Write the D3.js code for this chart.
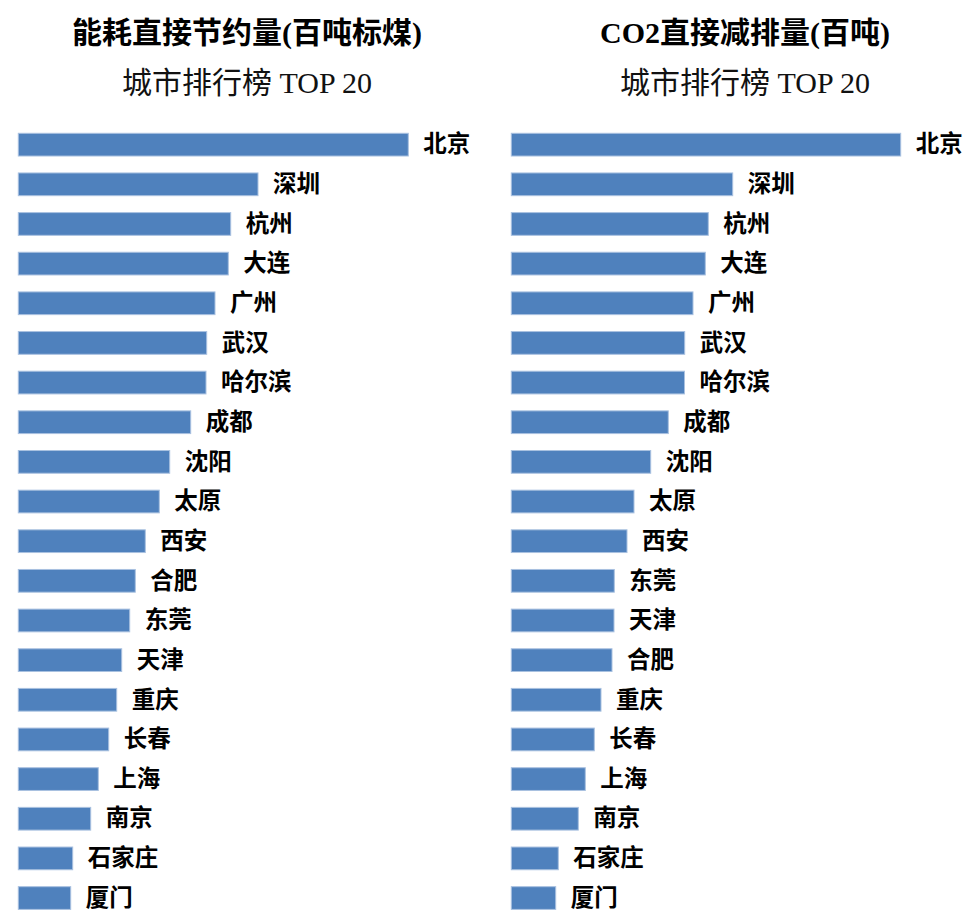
<!DOCTYPE html>
<html>
<head>
<meta charset="utf-8">
<script src="https://cdn.jsdelivr.net/npm/d3@7"></script>
<style>
  html, body { margin: 0; padding: 0; background: #fff; }
  svg { display: block; }
</style>
</head>
<body>
<svg id="chart" width="970" height="912"></svg>
<script>
// Energy saved directly (hundred tonnes of standard coal), top 20 cities
const energyCities = ["北京","深圳","杭州","大连","广州","武汉","哈尔滨","成都","沈阳","太原",
                      "西安","合肥","东莞","天津","重庆","长春","上海","南京","石家庄","厦门"];
const energyValues = [390, 239.7, 212.4, 210, 196.7, 188.4, 187.7, 172.4, 151.4, 141,
                      127, 117, 111.4, 103.4, 98.4, 90.4, 80, 72.4, 54.4, 52.4];

// CO2 emission cut directly (hundred tonnes), top 20 cities
const co2Cities = ["北京","深圳","杭州","大连","广州","武汉","哈尔滨","成都","沈阳","太原",
                   "西安","东莞","天津","合肥","重庆","长春","上海","南京","石家庄","厦门"];
const co2Values = [389.4, 221.4, 197, 194, 181.7, 173.4, 173.2, 157, 139.4, 122.7,
                   115.7, 103, 102.7, 100.7, 89.7, 83, 74, 67, 47, 44.4];

const titles = ["能耗直接节约量(百吨标煤)", "CO2直接减排量(百吨)"];
const subtitle = "城市排行榜 TOP 20";

const svg = d3.select("#chart");
const barColor = "#4F81BD";
const latinCjk = "'Liberation Serif', 'Noto Sans CJK SC', sans-serif";

function panel(cities, values, title, opts) {
  const g = svg.append("g");

  g.append("text")
    .attr("x", opts.cx).attr("y", 43)
    .attr("text-anchor", "middle")
    .style("font-family", latinCjk)
    .style("font-weight", "bold")
    .style("font-size", "30px")
    .style("fill", "#000")
    .text(title);

  g.append("text")
    .attr("x", opts.cx).attr("y", 93)
    .attr("text-anchor", "middle")
    .style("font-family", latinCjk)
    .style("font-size", "30px")
    .style("fill", "#111")
    .text(subtitle);

  const data = cities.map((c, i) => ({ city: c, value: values[i] }));

  const y = d3.scaleBand()
    .domain(cities)
    .range([133.3, 909.4])
    .paddingInner(0.427)
    .paddingOuter(0);

  const x = d3.scaleLinear()
    .domain([0, 390])
    .range([opts.x0, opts.x0 + 390]);

  g.selectAll("rect.bar")
    .data(data)
    .join("rect")
    .attr("class", "bar")
    .attr("x", x(0))
    .attr("y", d => y(d.city))
    .attr("width", d => x(d.value) - x(0))
    .attr("height", y.bandwidth())
    .attr("fill", barColor)
    .attr("stroke", "#A9C1E0")
    .attr("stroke-width", 1);

  g.selectAll("text.lbl")
    .data(data)
    .join("text")
    .attr("class", "lbl")
    .attr("x", d => x(d.value) + 15)
    .attr("y", d => y(d.city) + y.bandwidth() / 2)
    .attr("dy", "0.33em")
    .style("font-family", "'Noto Sans CJK SC', sans-serif")
    .style("font-weight", "bold")
    .style("font-size", "23.5px")
    .style("fill", "#000")
    .text(d => d.city);
}

panel(energyCities, energyValues, titles[0], { x0: 18.3, cx: 247 });
panel(co2Cities, co2Values, titles[1], { x0: 511.3, cx: 745 });
</script>
</body>
</html>
